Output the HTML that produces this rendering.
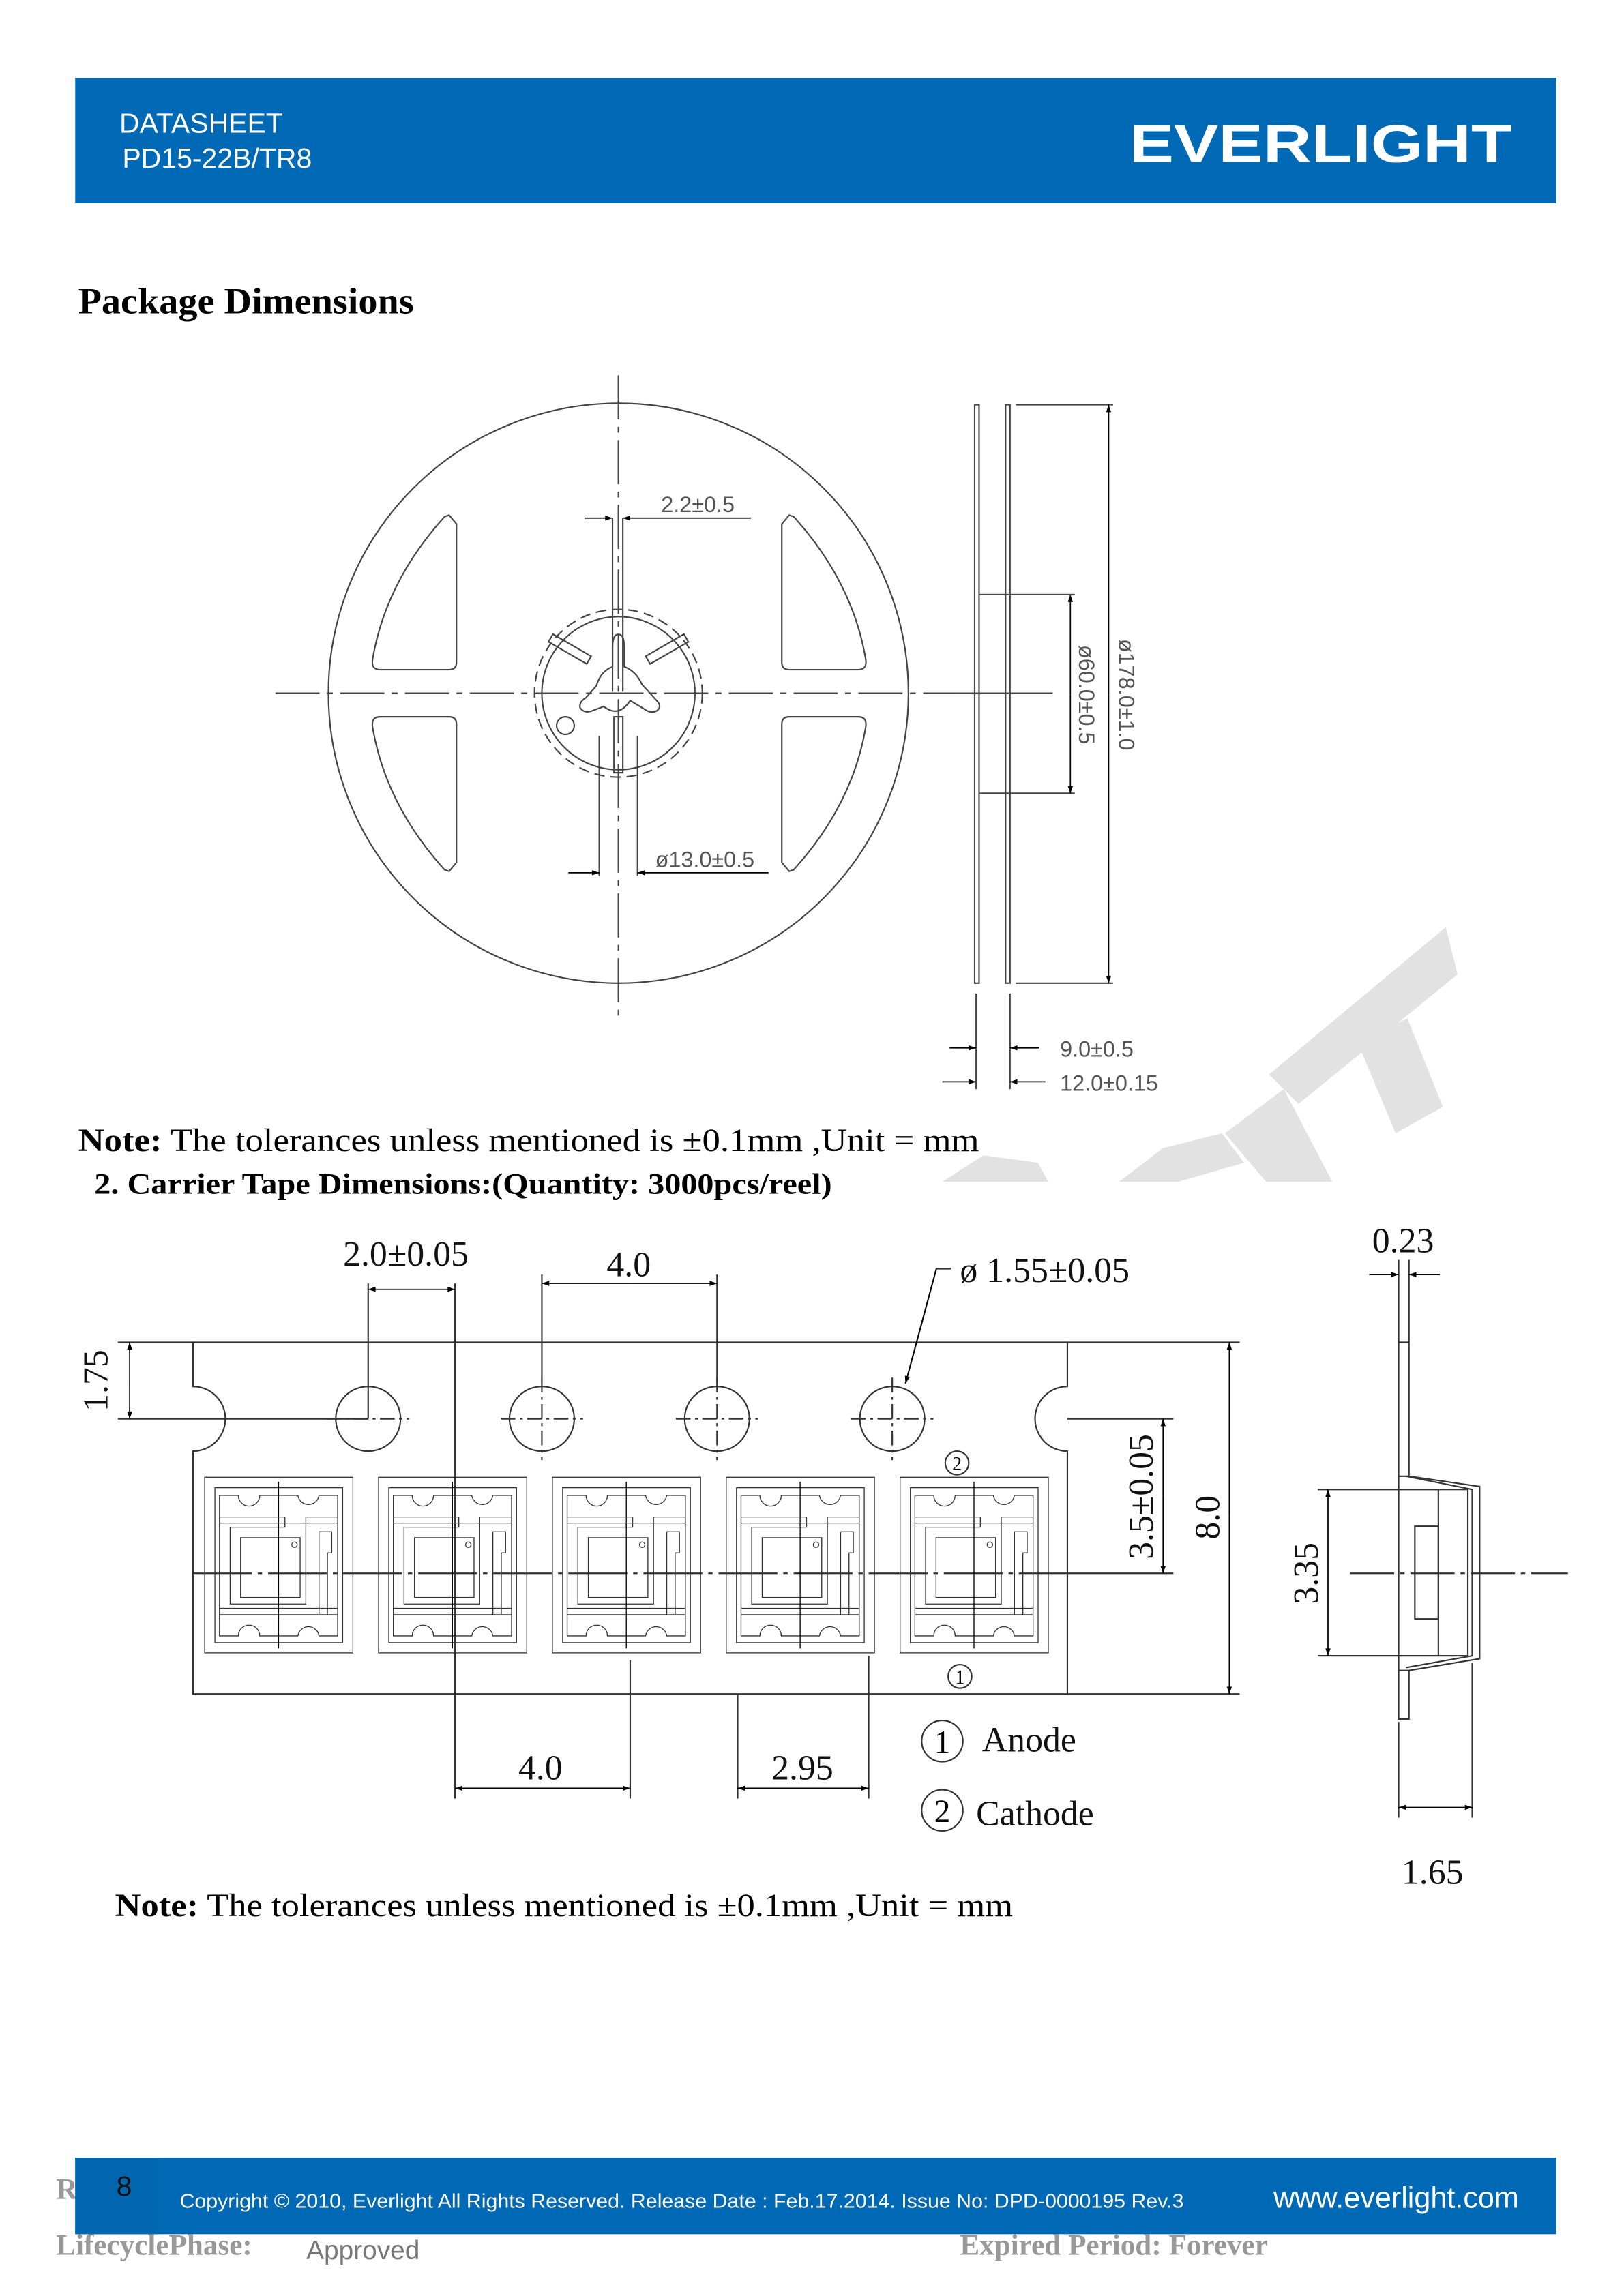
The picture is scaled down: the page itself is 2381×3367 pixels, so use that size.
<!DOCTYPE html>
<html><head><meta charset="utf-8"><style>
html,body{margin:0;padding:0;background:#fff;}
svg{display:block;}
.sr{font-family:"Liberation Serif",serif;}
.ss{font-family:"Liberation Sans",sans-serif;}
</style></head><body>
<svg width="2381" height="3367" viewBox="0 0 1103 1560" xmlns="http://www.w3.org/2000/svg">
<defs>
<marker id="a" viewBox="0 0 10 10" refX="10" refY="5" markerWidth="7" markerHeight="5" orient="auto-start-reverse" markerUnits="userSpaceOnUse"><path d="M0,1.5 L10,5 L0,8.5 Z" fill="#000"/></marker>
<clipPath id="wm"><rect x="600" y="600" width="450" height="203"/></clipPath>
<g id="pk" fill="none" stroke="#333" stroke-width="4">
<rect x="60" y="20" width="652" height="773"/>
<rect x="105" y="66" width="562" height="682"/>
<path d="M125,718 L125,100 L208,100 A47,47 0 0 0 302,100 L470,100 A47,47 0 0 0 563,100 L645,100 L645,718 L563,718 A47,47 0 0 0 470,718 L302,718 A47,47 0 0 0 208,718 Z"/>
<path d="M125,195 L413,195 L413,240 L172,240 L172,578 L505,578 L505,195 L645,195 M125,222 L645,222"/>
<rect x="218" y="286" width="262" height="263"/>
<circle cx="455" cy="317" r="12"/>
<path d="M563,625 L563,260 L619,260 L619,353 L600,353 L600,625"/>
<path d="M125,597 L645,597 M125,625 L645,625"/>
<path d="M385,40 L385,773" stroke="#000"/>
</g>
</defs>

<rect x="51" y="53" width="1006" height="85" fill="#0069b5"/>
<text x="81" y="90" class="ss" font-size="19" fill="#fff">DATASHEET</text>
<text x="83" y="114" class="ss" font-size="19" fill="#fff">PD15-22B/TR8</text>
<text x="767" y="110" class="ss" font-size="36" font-weight="bold" fill="#fff" textLength="260" lengthAdjust="spacingAndGlyphs">EVERLIGHT</text>

<text x="53" y="213" class="sr" font-size="25" font-weight="bold" textLength="228" lengthAdjust="spacingAndGlyphs">Package Dimensions</text>

<g clip-path="url(#wm)" fill="#e2e2e2">
<polygon points="862,730 982,630 990,662 882,750"/>
<polygon points="922,708 956,692 980,752 948,770"/>
<polygon points="832,770 872,740 905,803 860,803"/>
<polygon points="760,803 790,780 830,770 845,790 800,803"/>
<polygon points="640,803 668,785 705,790 712,803"/>
</g>

<g fill="none" stroke="#444" stroke-width="1">
<circle cx="420" cy="471" r="197"/>
<path d="M420,255 L420,693 M187,471 L650,471" stroke-dasharray="30,5,4,5"/>
<path d="M305,350 L310,356 L310,450 Q310,455 305,455 L258,455 Q252,455 253,448 Q262,395 302,351 Z"/>
<path d="M536,350 L531,356 L531,450 Q531,455 536,455 L583,455 Q589,455 588,448 Q579,395 539,351 Z"/>
<path d="M305,592 L310,586 L310,492 Q310,487 305,487 L258,487 Q252,487 253,494 Q262,547 302,591 Z"/>
<path d="M536,592 L531,586 L531,492 Q531,487 536,487 L583,487 Q589,487 588,494 Q579,547 539,591 Z"/>
<circle cx="420" cy="471" r="57" stroke-dasharray="7,4"/>
<circle cx="420" cy="471" r="52"/>
<circle cx="384" cy="493" r="6"/>
<rect x="417" y="487" width="6" height="38"/>
<rect x="372" y="438" width="30" height="6" transform="rotate(30 387 441)"/>
<rect x="438" y="438" width="30" height="6" transform="rotate(-30 453 441)"/>
<path d="M416,440 Q416,431 420,431 Q424,431 424,440 L424,453 Q432,456 436,465 L446,476 Q450,480 446,483 Q442,485 438,482 L428,476 Q420,488 410,480 L402,483 Q397,485 394,481 Q393,477 398,474 L405,466 Q408,456 416,453 Z"/>
<path d="M416,352 L416,470 M423,352 L423,470 M407,500 L407,595 M433,500 L433,595"/>
</g>
<g stroke="#000" stroke-width="0.8" fill="none">
<path d="M397,352 L416,352" marker-end="url(#a)"/>
<path d="M510,352 L423,352" marker-end="url(#a)"/>
<path d="M386,593 L407,593" marker-end="url(#a)"/>
<path d="M522,593 L433,593" marker-end="url(#a)"/>
</g>
<text x="449" y="348" class="ss" font-size="15" fill="#555">2.2±0.5</text>
<text x="445" y="589" class="ss" font-size="15" fill="#555">ø13.0±0.5</text>

<g fill="none" stroke="#444" stroke-width="1">
<rect x="662" y="275" width="3" height="393"/>
<rect x="683" y="275" width="3" height="393"/>
<path d="M665,404 L730,404 M665,539 L730,539 M690,275 L756,275 M690,668 L756,668 M650,471 L715,471"/>
<path d="M663,675 L663,740 M686,675 L686,740"/>
</g>
<g stroke="#000" stroke-width="0.8" fill="none">
<path d="M753,472 L753,275" marker-end="url(#a)"/>
<path d="M753,472 L753,668" marker-end="url(#a)"/>
<path d="M727,472 L727,404" marker-end="url(#a)"/>
<path d="M727,472 L727,539" marker-end="url(#a)"/>
<path d="M645,712 L663,712" marker-end="url(#a)"/>
<path d="M706,712 L686,712" marker-end="url(#a)"/>
<path d="M640,735 L663,735" marker-end="url(#a)"/>
<path d="M710,735 L686,735" marker-end="url(#a)"/>
</g>
<text transform="translate(760,472) rotate(90)" text-anchor="middle" class="ss" font-size="15" fill="#555">ø178.0±1.0</text>
<text transform="translate(733,472) rotate(90)" text-anchor="middle" class="ss" font-size="15" fill="#555">ø60.0±0.5</text>
<text x="720" y="718" class="ss" font-size="15" fill="#555">9.0±0.5</text>
<text x="720" y="741" class="ss" font-size="15" fill="#555">12.0±0.15</text>

<text x="53" y="782" class="sr" font-size="22" textLength="612" lengthAdjust="spacingAndGlyphs"><tspan font-weight="bold">Note:</tspan> The tolerances unless mentioned is  ±0.1mm ,Unit = mm</text>
<text x="64" y="811" class="sr" font-size="20" font-weight="bold" textLength="501" lengthAdjust="spacingAndGlyphs">2. Carrier Tape Dimensions:(Quantity: 3000pcs/reel)</text>

<g fill="none" stroke="#333" stroke-width="1">
<path d="M131,912 L725,912 L725,942 A22,22 0 0 0 725,986 L725,1151 L131,1151 L131,986 A22,22 0 0 0 131,942 Z"/>
<circle cx="250" cy="964" r="22"/>
<circle cx="368" cy="964" r="22"/>
<circle cx="487" cy="964" r="22"/>
<circle cx="606" cy="964" r="22"/>
<path d="M222,964 L278,964 M340,964 L396,964 M459,964 L515,964 M578,964 L634,964 M368,936 L368,992 M487,936 L487,992 M606,936 L606,992" stroke-dasharray="10,3,2,3"/>
<path d="M131,1069 L725,1069" stroke-dasharray="40,4,3,4"/>
<path d="M725,1069 L797,1069 M725,912 L842,912 M725,1151 L842,1151 M725,964 L797,964 M80,912 L131,912 M80,964 L250,964"/>
<path d="M250,872 L250,964 M309,872 L309,1222 M368,866 L368,940 M487,866 L487,940 M428,1128 L428,1222 M590,1125 L590,1222 M501,1151 L501,1222"/>
<path d="M646,862 L636,862 L615,940"/>
</g>
<use href="#pk" transform="translate(129.7,1000.6) scale(0.1544)"/>
<use href="#pk" transform="translate(247.8,1000.6) scale(0.1544)"/>
<use href="#pk" transform="translate(365.9,1000.6) scale(0.1544)"/>
<use href="#pk" transform="translate(484.0,1000.6) scale(0.1544)"/>
<use href="#pk" transform="translate(602.1,1000.6) scale(0.1544)"/>
<g stroke="#000" stroke-width="0.8" fill="none">
<path d="M88,938 L88,912" marker-end="url(#a)"/>
<path d="M88,938 L88,964" marker-end="url(#a)"/>
<path d="M835,1030 L835,912" marker-end="url(#a)"/>
<path d="M835,1030 L835,1151" marker-end="url(#a)"/>
<path d="M790,1016 L790,964" marker-end="url(#a)"/>
<path d="M790,1016 L790,1069" marker-end="url(#a)"/>
<path d="M280,876 L250,876" marker-end="url(#a)"/>
<path d="M280,876 L309,876" marker-end="url(#a)"/>
<path d="M428,872 L368,872" marker-end="url(#a)"/>
<path d="M428,872 L487,872" marker-end="url(#a)"/>
<path d="M368,1215 L309,1215" marker-end="url(#a)"/>
<path d="M368,1215 L428,1215" marker-end="url(#a)"/>
<path d="M545,1215 L501,1215" marker-end="url(#a)"/>
<path d="M545,1215 L590,1215" marker-end="url(#a)"/>
<path d="M636,862 L615,940" marker-end="url(#a)"/>
</g>
<g class="sr" font-size="24" fill="#111">
<text x="233" y="860">2.0±0.05</text>
<text x="412" y="867">4.0</text>
<text x="652" y="871">ø 1.55±0.05</text>
<text transform="translate(73,938) rotate(-90)" text-anchor="middle">1.75</text>
<text transform="translate(828,1031) rotate(-90)" text-anchor="middle">8.0</text>
<text transform="translate(783,1017) rotate(-90)" text-anchor="middle">3.5±0.05</text>
<text x="352" y="1209">4.0</text>
<text x="524" y="1209">2.95</text>
<text x="667" y="1190">Anode</text>
<text x="663" y="1240">Cathode</text>
<text x="932" y="851">0.23</text>
<text transform="translate(895,1069) rotate(-90)" text-anchor="middle">3.35</text>
<text x="952" y="1280">1.65</text>
</g>
<g fill="none" stroke="#333" stroke-width="1">
<circle cx="650" cy="994" r="8"/><circle cx="652" cy="1139" r="8"/>
<circle cx="640" cy="1183" r="14"/><circle cx="640" cy="1230" r="14"/>
</g>
<g class="sr" font-size="13" text-anchor="middle"><text x="650" y="999">2</text><text x="652" y="1144">1</text></g>
<g class="sr" font-size="22" text-anchor="middle"><text x="640" y="1191">1</text><text x="640" y="1238">2</text></g>

<g fill="none" stroke="#333" stroke-width="1">
<path d="M950,912 L950,1168 L957,1168 L957,1135 L1005,1127 L1005,1010 L957,1003 L957,912 Z"/>
<path d="M950,1003 L957,1003 M950,1135 L957,1135"/>
<path d="M955,1003 L1000,1012 L1000,1125 L955,1133"/>
<rect x="977" y="1012" width="20" height="113"/>
<rect x="961" y="1037" width="16" height="63"/>
<path d="M917,1069 L1065,1069" stroke-dasharray="30,4,3,4"/>
<path d="M950,856 L950,912 M957,856 L957,912 M895,1012 L977,1012 M895,1125 L977,1125 M950,1170 L950,1235 M1000,1130 L1000,1235"/>
</g>
<g stroke="#000" stroke-width="0.8" fill="none">
<path d="M930,866 L950,866" marker-end="url(#a)"/>
<path d="M978,866 L957,866" marker-end="url(#a)"/>
<path d="M902,1068 L902,1012" marker-end="url(#a)"/>
<path d="M902,1068 L902,1125" marker-end="url(#a)"/>
<path d="M975,1228 L950,1228" marker-end="url(#a)"/>
<path d="M975,1228 L1000,1228" marker-end="url(#a)"/>
</g>

<text x="78" y="1302" class="sr" font-size="22" textLength="610" lengthAdjust="spacingAndGlyphs"><tspan font-weight="bold">Note:</tspan> The tolerances unless mentioned is  ±0.1mm ,Unit = mm</text>

<text x="38" y="1494" class="sr" font-size="20" font-weight="bold" fill="#999">R</text>
<text x="38" y="1532" class="sr" font-size="20" font-weight="bold" fill="#999">LifecyclePhase:</text>
<text x="208" y="1535" class="ss" font-size="18" fill="#777">Approved</text>
<text x="652" y="1532" class="sr" font-size="20" font-weight="bold" fill="#999">Expired Period: Forever</text>
<rect x="51" y="1466" width="1006" height="52" fill="#0069b5"/>
<rect x="51" y="1466" width="57" height="52" fill="#0066b0"/>
<text x="79" y="1492" class="ss" font-size="19" fill="#111">8</text>
<text x="122" y="1500" class="ss" font-size="13.5" fill="#fff" textLength="682" lengthAdjust="spacingAndGlyphs">Copyright © 2010, Everlight All Rights Reserved. Release Date : Feb.17.2014. Issue No:  DPD-0000195 Rev.3</text>
<text x="865" y="1500" class="ss" font-size="20" fill="#fff">www.everlight.com</text>
</svg>
</body></html>
